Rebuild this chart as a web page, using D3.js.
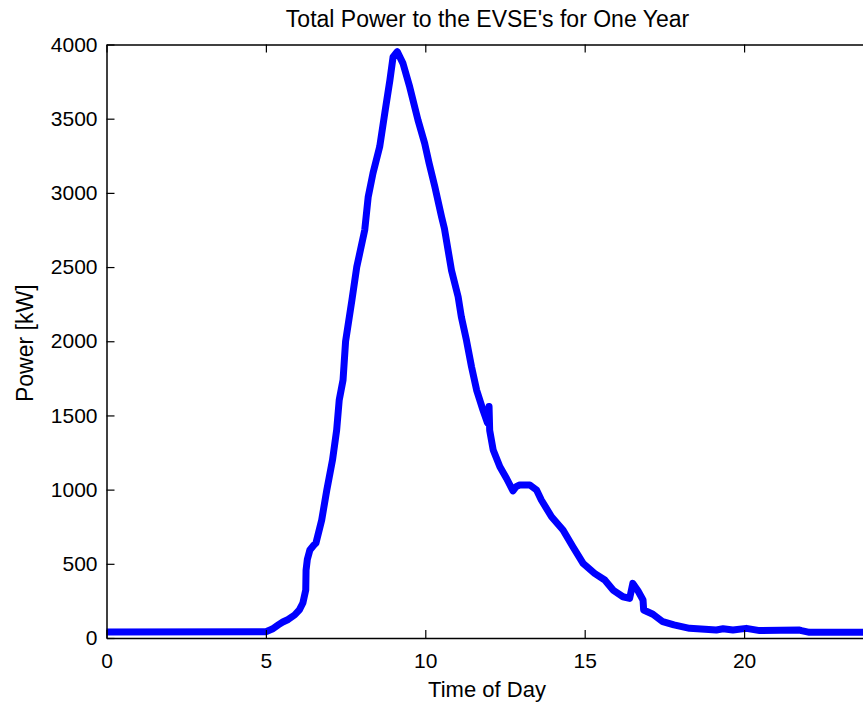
<!DOCTYPE html>
<html>
<head>
<meta charset="utf-8">
<script src="https://cdn.jsdelivr.net/npm/d3@7"></script>
<style>
  html, body { margin: 0; padding: 0; background: #fff; }
  svg { display: block; }
  text { font-family: "Liberation Sans", Arial, Helvetica, sans-serif; fill: #000; }
</style>
</head>
<body>
<svg id="chart" width="863" height="703"></svg>
<script>
// ---- Data ----
const hours = [0, 5.0, 5.2, 5.4, 5.53, 5.7, 5.9, 6.05, 6.16, 6.25, 6.26, 6.3, 6.38, 6.5, 6.57,
  6.75, 6.91, 7.09, 7.22, 7.30, 7.42, 7.5, 7.7, 7.85, 8.10, 8.21, 8.36, 8.57, 8.73, 8.89,
  8.99, 9.12, 9.30, 9.51, 9.77, 9.98, 10.12, 10.30, 10.51, 10.6, 10.82, 11.03, 11.13, 11.29,
  11.45, 11.61, 11.81, 11.95, 12.00, 12.02, 12.13, 12.34, 12.55, 12.75, 12.85, 12.96, 13.28,
  13.49, 13.64, 13.96, 14.32, 14.63, 14.95, 15.31, 15.63, 15.89, 16.20, 16.41, 16.51, 16.67,
  16.83, 16.85, 17.14, 17.45, 17.8, 18.29, 19.13, 19.34, 19.65, 20.07, 20.49, 21.74, 21.8,
  22.05, 24];
const powerKW = [40, 42, 60, 90, 108, 125, 155, 190, 236, 323, 458, 530, 593, 625, 640,
  795, 997, 1200, 1402, 1604, 1739, 2000, 2280, 2500, 2749, 2974, 3133, 3311, 3538, 3760,
  3917, 3952, 3873, 3715, 3491, 3334, 3199, 3041, 2839, 2760, 2480, 2300, 2165, 2008,
  1828, 1671, 1536, 1450, 1560, 1400, 1267, 1154, 1075, 992, 1020, 1031, 1031,
  997, 930, 817, 728, 615, 503, 436, 391, 323, 278, 267, 368, 318,
  256, 189, 160, 110, 88, 65, 54, 62, 54, 65, 50, 54, 50,
  38, 38];
const xTicks = [0, 5, 10, 15, 20];
const yTicks = [0, 500, 1000, 1500, 2000, 2500, 3000, 3500, 4000];
const titleText = "Total Power to the EVSE's for One Year";
const xLabel = "Time of Day";
const yLabel = "Power [kW]";

// ---- Layout ----
const svg = d3.select("#chart");
const padL = 106.5, padR = 871.6, padT = 44.5, padB = 638;
const x = d3.scaleLinear().domain([0, 24]).range([padL, padR]);
const y = d3.scaleLinear().domain([0, 4000]).range([padB, padT]);
const fs = 21;
const tickLen = 8;

// Data line
const data = hours.map((h, i) => [h, powerKW[i]]);
const line = d3.line().x(d => x(d[0])).y(d => y(d[1]));
svg.append("path")
  .datum(data)
  .attr("d", line)
  .attr("fill", "none")
  .attr("stroke", "#0000ff")
  .attr("stroke-width", 7)
  .attr("stroke-linejoin", "round")
  .attr("stroke-linecap", "butt");

// Axes (MATLAB style: inward ticks, box)
const axStyle = g => {
  g.select(".domain").attr("stroke", "#000").attr("stroke-width", 1.5);
  g.selectAll(".tick line").attr("stroke", "#000").attr("stroke-width", 1.2);
  g.selectAll(".tick text").style("font-size", fs + "px").style("font-family", '"Liberation Sans", Arial, sans-serif').attr("fill", "#000");
};

const xAxisB = d3.axisBottom(x).tickValues(xTicks).tickFormat(d3.format("d"))
  .tickSizeInner(-tickLen).tickSizeOuter(0).tickPadding(15);
svg.append("g").attr("transform", `translate(0,${padB})`).call(xAxisB).call(axStyle);

const xAxisT = d3.axisTop(x).tickValues(xTicks).tickFormat("")
  .tickSizeInner(-tickLen).tickSizeOuter(0);
svg.append("g").attr("transform", `translate(0,${padT})`).call(xAxisT).call(axStyle);

const yAxisL = d3.axisLeft(y).tickValues(yTicks).tickFormat(d3.format("d"))
  .tickSizeInner(-tickLen).tickSizeOuter(0).tickPadding(9);
svg.append("g").attr("transform", `translate(${padL},0)`).call(yAxisL).call(axStyle);

const yAxisR = d3.axisRight(y).tickValues(yTicks).tickFormat("")
  .tickSizeInner(-tickLen).tickSizeOuter(0);
svg.append("g").attr("transform", `translate(${padR},0)`).call(yAxisR).call(axStyle);

// Titles
svg.append("text")
  .attr("x", 487.5).attr("y", 26.5)
  .attr("text-anchor", "middle")
  .style("font-size", "23px")
  .text(titleText);

svg.append("text")
  .attr("x", 487).attr("y", 697)
  .attr("text-anchor", "middle")
  .style("font-size", "22px")
  .text(xLabel);

svg.append("text")
  .attr("transform", `translate(33,${(padT + padB) / 2 + 2}) rotate(-90)`)
  .attr("text-anchor", "middle")
  .style("font-size", "23px")
  .text(yLabel);
</script>
</body>
</html>
